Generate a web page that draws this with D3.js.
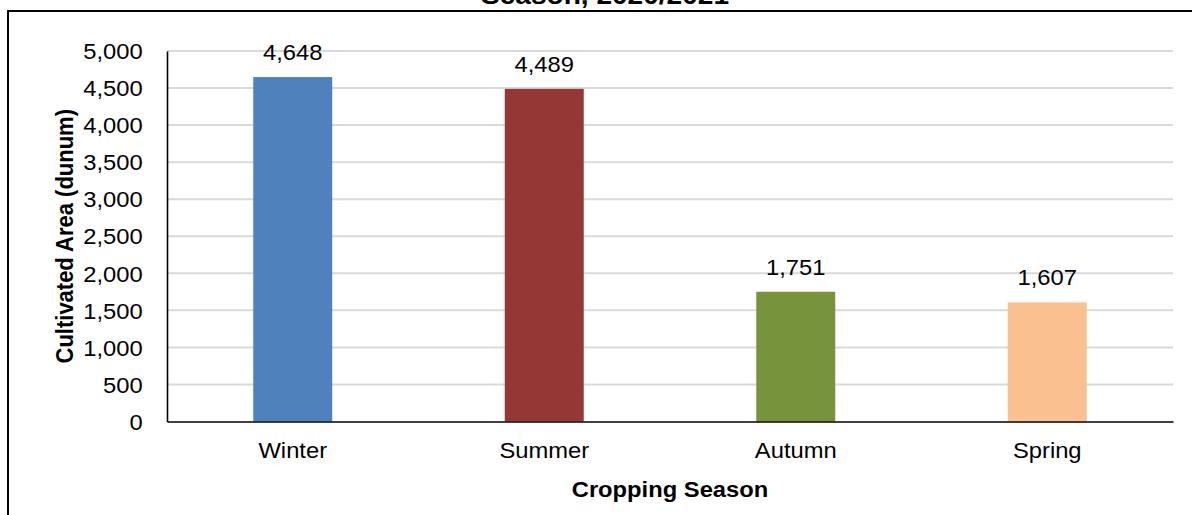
<!DOCTYPE html>
<html>
<head>
<meta charset="utf-8">
<script src="https://cdn.jsdelivr.net/npm/d3@7"></script>
<style>
  html, body { margin: 0; padding: 0; background: #fff; }
  svg { display: block; }
  text { font-family: "Liberation Sans", Arial, sans-serif; fill: #000; }
</style>
</head>
<body>
<svg id="chart" width="1192" height="515"></svg>
<script>
const categories = ["Winter", "Summer", "Autumn", "Spring"];
const values = [4648, 4489, 1751, 1607];
const barColors = ["#4f81bd", "#953735", "#77933c", "#fac090"];
const yTicks = [0, 500, 1000, 1500, 2000, 2500, 3000, 3500, 4000, 4500, 5000];
const titleText = "Season, 2020/2021";
const xTitle = "Cropping Season";
const yTitle = "Cultivated Area (dunum)";

(function () {
const SX = 1.08; // horizontal stretch of the text in the reference
const svg = d3.select("#chart");

// outer border
svg.append("rect").attr("x", 8).attr("y", 11).attr("width", 1300).attr("height", 700)
  .attr("fill", "none").attr("stroke", "#000").attr("stroke-width", 2);

const pL = 167, pR = 1173, pT = 51, pB = 421.5;
const x = d3.scaleBand().domain(categories).range([pL, pR])
  .paddingInner(0.686).paddingOuter(0.343);
const y = d3.scaleLinear().domain([0, 5000]).range([pB, pT]);

// gridlines
svg.append("g").selectAll("line").data(yTicks.filter(d => d > 0)).join("line")
  .attr("x1", pL).attr("x2", pR)
  .attr("y1", d => y(d)).attr("y2", d => y(d))
  .attr("stroke", "#d9d9d9").attr("stroke-width", 2);

// bars
svg.append("g").selectAll("rect").data(categories).join("rect")
  .attr("x", d => x(d)).attr("width", x.bandwidth())
  .attr("y", (d, i) => y(values[i])).attr("height", (d, i) => y(0) - y(values[i]))
  .attr("fill", (d, i) => barColors[i]);

// y axis
const yAxis = d3.axisLeft(y).tickValues(yTicks).tickSize(0).tickPadding(21)
  .tickFormat(d3.format(","));
const gy = svg.append("g").attr("transform", `translate(${pL},0)`).call(yAxis);
gy.select(".domain").attr("stroke", "#000").attr("stroke-width", 1.6);
gy.selectAll("text").attr("font-size", 22).attr("font-family", "Liberation Sans, Arial, sans-serif")
  .attr("fill", "#000").attr("dy", "0.35em")
  .attr("transform", `translate(${-21 * (SX - 1)},0) scale(${SX},1)`);

// x axis
const xAxis = d3.axisBottom(x).tickSize(0).tickPadding(0);
const gx = svg.append("g").attr("transform", `translate(0,${pB})`).call(xAxis);
gx.select(".domain").attr("stroke", "#000").attr("stroke-width", 1.6);
gx.selectAll("text").attr("font-size", 22).attr("font-family", "Liberation Sans, Arial, sans-serif")
  .attr("fill", "#000").attr("dy", null).attr("y", 36.5)
  .attr("transform", `scale(${SX},1)`);

// value labels
svg.append("g").selectAll("text").data(categories).join("text")
  .attr("transform", (d, i) => `translate(${x(d) + x.bandwidth() / 2},${y(values[i]) - 17}) scale(${SX},1)`)
  .attr("text-anchor", "middle").attr("font-size", 22)
  .text((d, i) => d3.format(",")(values[i]));

// axis titles
svg.append("text")
  .attr("transform", `translate(${(pL + pR) / 2},497) scale(${SX},1)`)
  .attr("text-anchor", "middle").attr("font-size", 22).attr("font-weight", "bold")
  .text(xTitle);
svg.append("text")
  .attr("transform", `translate(73,${(pT + pB) / 2}) rotate(-90) scale(1,${SX})`)
  .attr("text-anchor", "middle").attr("font-size", 22).attr("font-weight", "bold")
  .text(yTitle);

// chart title (only its last line is visible)
svg.append("text")
  .attr("transform", `translate(605,4) scale(${SX},1)`)
  .attr("text-anchor", "middle").attr("font-size", 26).attr("font-weight", "bold")
  .text(titleText);
})();
</script>
</body>
</html>
